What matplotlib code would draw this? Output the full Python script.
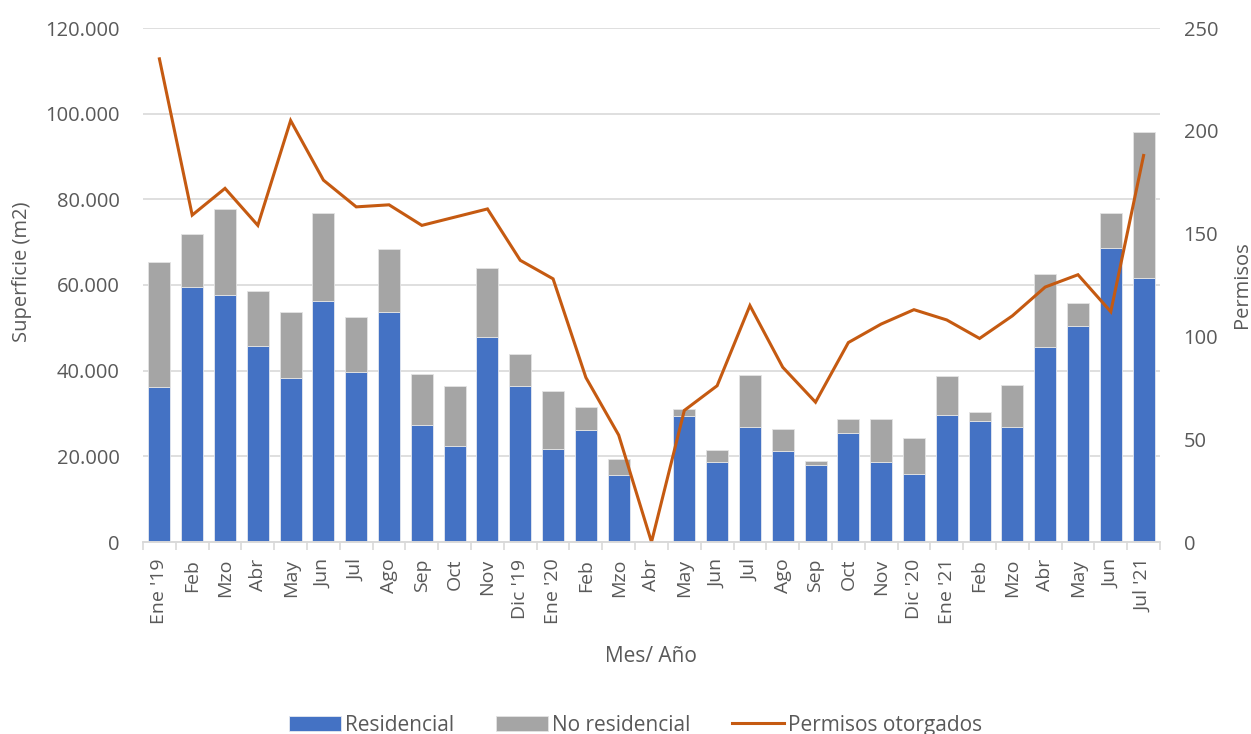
import numpy as np
import matplotlib
matplotlib.use("Agg")
import matplotlib.pyplot as plt
from matplotlib.ticker import FuncFormatter, FixedLocator

plt.rcParams['font.family'] = ['Open Sans', 'DejaVu Sans']

# datos
meses = ["Ene '19", "Feb", "Mzo", "Abr", "May", "Jun", "Jul", "Ago", "Sep", "Oct",
         "Nov", "Dic '19", "Ene '20", "Feb", "Mzo", "Abr", "May", "Jun", "Jul", "Ago",
         "Sep", "Oct", "Nov", "Dic '20", "Ene '21", "Feb", "Mzo", "Abr", "May", "Jun",
         "Jul '21"]

# superficie total por mes (m2)
residencial = [36300, 59500, 57600, 45700, 38400, 56200, 39600, 53600, 27400, 22400,
               47900, 36400, 21600, 26100, 15600, 0, 29400, 18700, 26800, 21200,
               18000, 25400, 18600, 15800, 29600, 28200, 26900, 45500, 50400, 68600,
               61600]
total = [65300, 71800, 77700, 58500, 53800, 76700, 52600, 68400, 39300, 36400,
         63900, 44000, 35300, 31500, 19300, 0, 31000, 21400, 39100, 26300,
         18900, 28800, 28800, 24200, 38700, 30400, 36700, 62600, 55800, 76700,
         95700]
no_residencial = [t - r for t, r in zip(total, residencial)]

permisos = [235, 159, 172, 154, 205, 176, 163, 164, 154, 158,
            162, 137, 128, 80, 52, 0, 64, 76, 115, 85,
            68, 97, 106, 113, 108, 99, 110, 124, 130, 112,
            188]

AZUL = '#4472C4'
GRIS = '#A5A5A5'
NARANJA = '#C55A11'
TXT = '#595959'
GRID = '#D9D9D9'

fig = plt.figure(figsize=(12.51, 7.34), dpi=100)
ax = fig.add_axes([143/1251, 1 - 542/734, (1160-143)/1251, (542-28)/734])
ax2 = ax.twinx()

x = np.arange(len(meses))
b1 = ax.bar(x, residencial, width=0.67, color=AZUL, edgecolor='#E4E8F0', linewidth=0.6, zorder=2)
b2 = ax.bar(x, no_residencial, bottom=residencial, width=0.67, color=GRIS,
            edgecolor='#E4E4E4', linewidth=0.6, zorder=2)
l1, = ax2.plot(x, permisos, color=NARANJA, linewidth=2.2, solid_joinstyle='miter')

ax.set_xlim(-0.5, len(meses) - 0.5)
ax.set_ylim(0, 120000)
ax2.set_ylim(0, 250)
ax.set_yticks(np.arange(0, 120001, 20000))
ax2.set_yticks(np.arange(0, 251, 50))
ax.yaxis.set_major_formatter(FuncFormatter(lambda v, p: f"{int(v):,}".replace(",", ".")))

ax.grid(axis='y', color=GRID, linewidth=1.2, zorder=0)
ax.set_axisbelow(True)

for a in (ax, ax2):
    for s in ('top', 'left', 'right'):
        a.spines[s].set_visible(False)
    a.spines['bottom'].set_color(GRID)
    a.spines['bottom'].set_linewidth(1.2)

ax.set_xticks(x)
ax.set_xticklabels(meses, rotation=90)
ax.xaxis.set_minor_locator(FixedLocator(np.arange(-0.5, len(meses), 1)))
ax.tick_params(axis='x', which='major', length=0, pad=12, labelsize=14, labelcolor=TXT)
ax.tick_params(axis='x', which='minor', length=6, width=1.2, color=GRID)
ax.tick_params(axis='y', length=0, pad=17, labelsize=14.5, labelcolor=TXT)
ax2.tick_params(axis='y', length=0, pad=17, labelsize=14.5, labelcolor=TXT)

fig.text(22/1251, 1 - 272/734, 'Superficie (m2)', rotation=90, ha='center', va='center',
         fontsize=14.5, color=TXT)
fig.text(1242/1251, 1 - 285/734, 'Permisos', rotation=90, ha='center', va='center',
         fontsize=14.5, color=TXT)
fig.text(651/1251, 1 - 656/734, 'Mes/ Año', ha='center', va='center', fontsize=15, color=TXT)

leg = fig.legend([b1, b2, l1], ['Residencial', 'No residencial', 'Permisos otorgados'],
                 loc='center', bbox_to_anchor=(0.508, 0.012), ncol=3, frameon=False,
                 fontsize=15, handlelength=2.5, handleheight=0.7, handletextpad=0.2,
                 columnspacing=2.0)
for t in leg.get_texts():
    t.set_color(TXT)

fig.savefig('out.png', dpi=100)
